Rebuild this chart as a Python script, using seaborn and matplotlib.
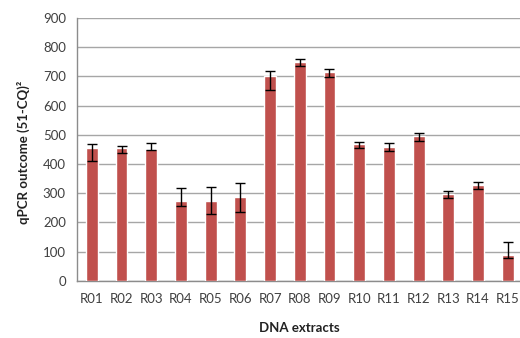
import numpy as np
import pandas as pd
import matplotlib
matplotlib.use("Agg")
import matplotlib.pyplot as plt
import seaborn as sns
from matplotlib.ticker import FixedLocator

categories = ["R01", "R02", "R03", "R04", "R05", "R06", "R07", "R08",
              "R09", "R10", "R11", "R12", "R13", "R14", "R15"]
values = [455, 456, 453, 274, 274, 287, 700, 749, 715, 468, 459, 496, 298, 327, 87]
err_lower_end = [409, 437, 449, 255, 230, 237, 652, 735, 698, 454, 446, 480, 283, 314, 77]
err_upper_end = [467, 460, 472, 317, 322, 334, 717, 760, 726, 476, 471, 506, 308, 339, 134]
y_ticks = [0, 100, 200, 300, 400, 500, 600, 700, 800, 900]

sns.set_style("white")
plt.rcParams["font.family"] = ["Lato", "DejaVu Sans"]

df = pd.DataFrame({"extract": categories, "value": values})

fig = plt.figure(figsize=(5.2, 3.38), dpi=100)
ax = fig.add_axes([0.148, 0.169, 0.857, 0.778])

sns.barplot(data=df, x="extract", y="value", color="#C0504D", saturation=1,
            width=0.4, ax=ax, zorder=3)

xs = np.arange(len(categories))
vals = np.array(values)
lo = vals - np.array(err_lower_end)
hi = np.array(err_upper_end) - vals
ax.errorbar(xs, vals, yerr=[lo, hi], fmt="none", ecolor="black",
            elinewidth=1.0, capsize=3.5, capthick=1.0, zorder=4)

ax.set_xlim(-0.5, len(categories) - 0.5)
ax.set_ylim(0, 900)
ax.set_yticks(y_ticks)
ax.yaxis.grid(True, color="#a6a6a6", linewidth=1.0, zorder=0)
ax.set_axisbelow(True)

for s in ["top", "right"]:
    ax.spines[s].set_visible(False)
for s in ["left", "bottom"]:
    ax.spines[s].set_color("#8c8c8c")
    ax.spines[s].set_linewidth(1.0)

ax.tick_params(axis="x", which="major", length=0, labelsize=9.5, pad=9)
ax.xaxis.set_minor_locator(FixedLocator(np.arange(-0.5, len(categories), 1.0)))
ax.tick_params(axis="x", which="minor", length=4, color="#8c8c8c", width=1.0)
ax.tick_params(axis="y", which="major", length=4, color="#8c8c8c", width=1.0,
               labelsize=9.5, pad=4)
ax.tick_params(axis="both", labelcolor="#404040")

ax.set_xlabel("DNA extracts", fontsize=9.5, fontweight="bold", color="#222222", labelpad=12)
ax.set_ylabel("qPCR outcome (51-CQ)²", fontsize=9.5, fontweight="bold", color="#222222", labelpad=5)
ax.yaxis.set_label_coords(-0.105, 0.49)

fig.savefig("out.png", dpi=100)
